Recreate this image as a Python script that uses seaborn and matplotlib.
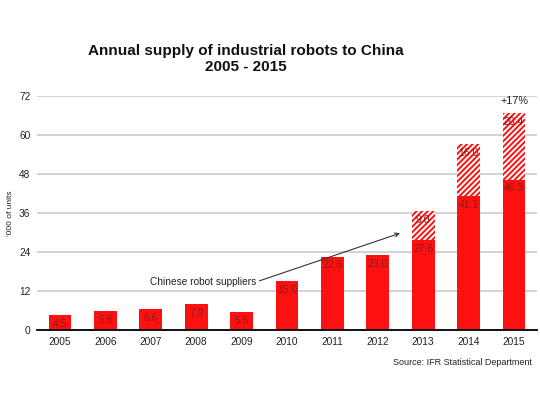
import numpy as np
import pandas as pd
import matplotlib
matplotlib.use("Agg")
import matplotlib.pyplot as plt
import seaborn as sns

# data
years = ["2005", "2006", "2007", "2008", "2009", "2010",
         "2011", "2012", "2013", "2014", "2015"]
foreign = [4.5, 5.8, 6.6, 7.9, 5.5, 15.0, 22.6, 23.0, 27.6, 41.1, 46.3]
chinese = [0, 0, 0, 0, 0, 0, 0, 0, 9.0, 16.0, 20.4]
growth_label = "+17%"

sns.set_theme(style="whitegrid")
plt.rcParams["font.family"] = ["Liberation Sans", "DejaVu Sans"]
plt.rcParams["hatch.color"] = "#ff1010"
plt.rcParams["hatch.linewidth"] = 1.4

df = pd.DataFrame({"year": years, "foreign": foreign, "chinese": chinese})
df["total"] = df["foreign"] + df["chinese"]

fig = plt.figure(figsize=(5.4, 4.05), dpi=100)
ax = fig.add_axes([0.069, 0.185, 0.925, 0.578])

red = "#ff1010"
lab_col = "#8a1c1c"

# hatched total first, solid foreign part over it
sns.barplot(data=df, x="year", y="total", color="white", edgecolor=red,
            hatch="//////", linewidth=0, width=0.5, ax=ax)
sns.barplot(data=df, x="year", y="foreign", color=red, saturation=1,
            linewidth=0, width=0.5, ax=ax)

ch_labels = [f"{v:.1f}" if v > 0 else "" for v in chinese]
ax.bar_label(ax.containers[0], labels=ch_labels, padding=-10,
             fontsize=7.5, color=lab_col)
ax.bar_label(ax.containers[1], labels=[f"{v:.1f}" for v in foreign],
             padding=-10, fontsize=7.5, color=lab_col)

ax.set_xlim(-0.5, 10.5)
ax.set_ylim(0, 72)
ax.set_yticks(np.arange(0, 73, 12))
ax.set_xlabel("")
ax.set_ylabel("")
ax.tick_params(axis="both", labelsize=7.3, length=0, pad=5, colors="#222222")
ax.grid(axis="y", color="#cccccc", linewidth=1.2)
ax.grid(axis="x", visible=False)
for s in ["left", "right", "top"]:
    ax.spines[s].set_visible(False)
ax.spines["bottom"].set_color("black")
ax.spines["bottom"].set_linewidth(1.3)
ax.set_axisbelow(True)

ax.text(10, 70.4, growth_label, ha="center", va="center", fontsize=7.8,
        color="#222222")

ax.annotate("Chinese robot suppliers", xy=(7.49, 29.8), xytext=(4.32, 14.8),
            ha="right", va="center", fontsize=7.3, color="#222222",
            arrowprops=dict(arrowstyle="->", color="#333333", lw=0.8,
                            relpos=(1, 0.5), shrinkA=0, shrinkB=0))

fig.text(0.455, 0.855, "Annual supply of industrial robots to China\n2005 - 2015",
         ha="center", va="center", fontsize=11, fontweight="bold",
         linespacing=1.15, color="#111111")
fig.text(0.02, 0.474, "'000 of units", rotation=90, ha="center", va="center",
         fontsize=6, color="#222222")
fig.text(0.985, 0.106, "Source: IFR Statistical Department", ha="right",
         va="center", fontsize=6.5, color="#222222")

fig.savefig("out.png", dpi=100, facecolor="white")
